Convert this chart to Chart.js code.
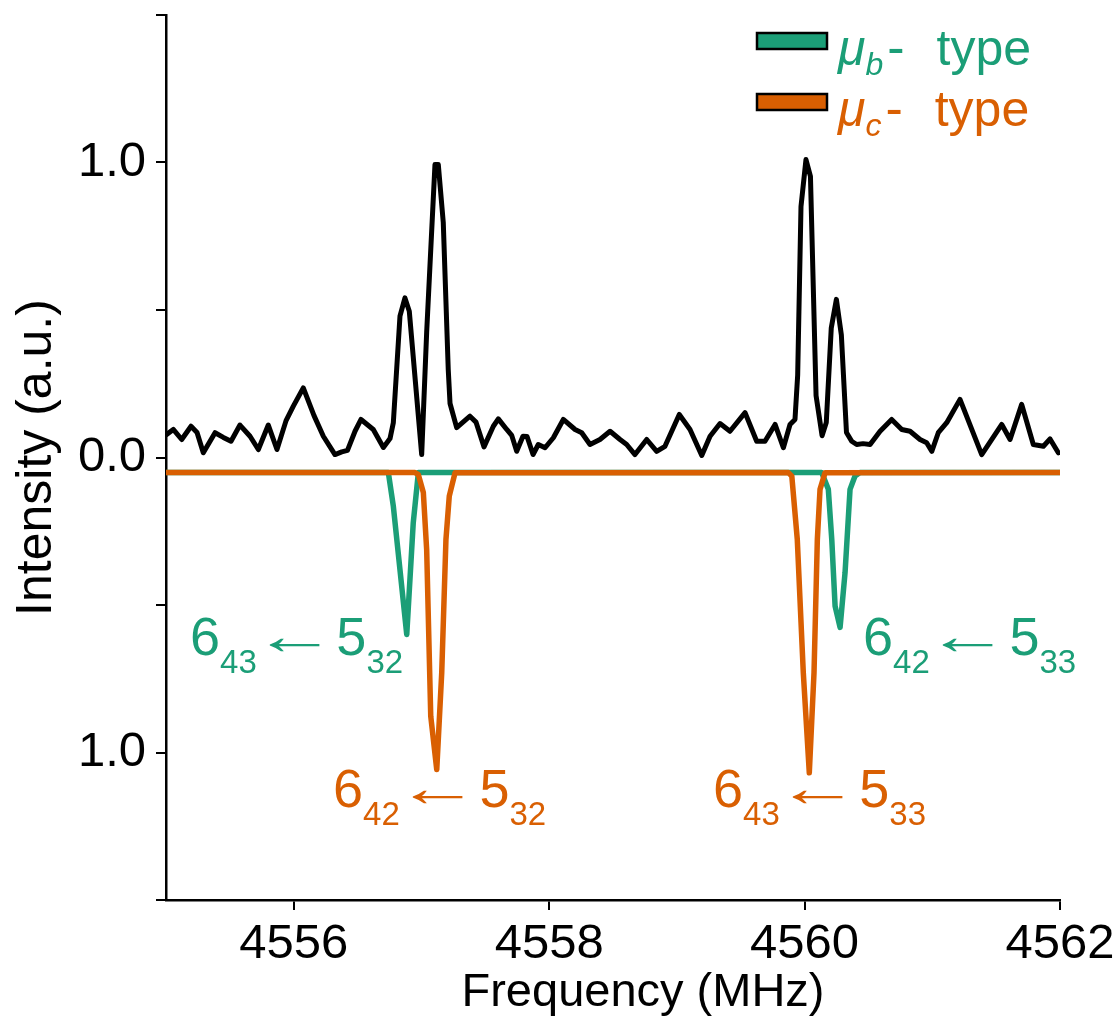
<!DOCTYPE html>
<html lang="en">
<head>
    <meta charset="UTF-8">
    <title>Rotational spectrum 4555-4562 MHz</title>
    <script src="https://cdn.jsdelivr.net/npm/chart.js"></script>
    <style>
        html, body { margin: 0; padding: 0; background: #fff; }
        canvas { display: block; }
    </style>
</head>
<body>
    <canvas id="spectrumChart" width="1113" height="1017"></canvas>

    <script type=text/javascript>
        // observed spectrum (black trace)
        var obsFreq = [4555.005, 4555.057, 4555.123, 4555.196, 4555.243, 4555.292, 4555.384, 4555.449, 4555.509, 4555.579,
            4555.658, 4555.723, 4555.801, 4555.869, 4555.940, 4555.997, 4556.075, 4556.159, 4556.232, 4556.323,
            4556.376, 4556.421, 4556.480, 4556.527, 4556.623, 4556.702, 4556.754, 4556.780, 4556.832, 4556.871,
            4556.905, 4557.002, 4557.041, 4557.106, 4557.132, 4557.171, 4557.210, 4557.224, 4557.276, 4557.380,
            4557.427, 4557.490, 4557.563, 4557.602, 4557.668, 4557.707, 4557.746, 4557.795, 4557.827, 4557.874,
            4557.915, 4557.968, 4558.033, 4558.111, 4558.203, 4558.255, 4558.320, 4558.398, 4558.477, 4558.555,
            4558.607, 4558.672, 4558.764, 4558.842, 4558.907, 4559.019, 4559.103, 4559.195, 4559.260, 4559.338,
            4559.416, 4559.534, 4559.625, 4559.690, 4559.769, 4559.834, 4559.886, 4559.925, 4559.946, 4559.972,
            4560.011, 4560.046, 4560.090, 4560.137, 4560.170, 4560.209, 4560.249, 4560.288, 4560.328, 4560.369,
            4560.408, 4560.458, 4560.513, 4560.591, 4560.682, 4560.761, 4560.826, 4560.904, 4560.956, 4560.996,
            4561.047, 4561.113, 4561.217, 4561.387, 4561.544, 4561.609, 4561.700, 4561.791, 4561.870, 4561.922,
            4561.987];
        var obsInt = [0.078, 0.095, 0.061, 0.106, 0.085, 0.016, 0.084, 0.068, 0.055, 0.110,
            0.072, 0.027, 0.110, 0.027, 0.125, 0.174, 0.236, 0.142, 0.072, 0.010,
            0.019, 0.024, 0.089, 0.129, 0.095, 0.034, 0.064, 0.118, 0.479, 0.541,
            0.496, 0.010, 0.424, 0.993, 0.993, 0.797, 0.298, 0.183, 0.101, 0.140,
            0.120, 0.036, 0.106, 0.131, 0.095, 0.075, 0.021, 0.072, 0.071, 0.010,
            0.044, 0.033, 0.067, 0.129, 0.095, 0.084, 0.044, 0.061, 0.089, 0.061,
            0.044, 0.010, 0.061, 0.021, 0.038, 0.146, 0.095, 0.007, 0.072, 0.115,
            0.089, 0.152, 0.055, 0.055, 0.112, 0.033, 0.112, 0.129, 0.279, 0.851,
            1.010, 0.953, 0.210, 0.074, 0.119, 0.439, 0.536, 0.416, 0.085, 0.055,
            0.044, 0.047, 0.044, 0.089, 0.129, 0.095, 0.089, 0.061, 0.050, 0.021,
            0.084, 0.118, 0.197, 0.010, 0.112, 0.061, 0.180, 0.044, 0.038, 0.063,
            0.016];

        // simulated mu_b-type lines (green, drawn inverted)
        var bFreq = [4555.000, 4556.741, 4556.780, 4556.885, 4556.936, 4556.976, 4560.134, 4560.186, 4560.213, 4560.239,
            4560.278, 4560.317, 4560.356, 4560.395, 4560.434, 4562.000];
        var bInt = [-0.051, -0.051, -0.165, -0.600, -0.221, -0.051, -0.051, -0.108, -0.278, -0.504,
            -0.576, -0.390, -0.108, -0.063, -0.051, -0.051];

        // simulated mu_c-type lines (orange, drawn inverted)
        var cFreq = [4555.000, 4556.950, 4556.976, 4557.015, 4557.041, 4557.073, 4557.120, 4557.159, 4557.192, 4557.218,
            4557.263, 4559.873, 4559.900, 4559.943, 4559.990, 4560.037, 4560.074, 4560.100, 4560.121, 4560.160,
            4562.000];
        var cInt = [-0.051, -0.051, -0.058, -0.119, -0.312, -0.877, -1.058, -0.729, -0.278, -0.131,
            -0.052, -0.051, -0.063, -0.278, -0.729, -1.069, -0.729, -0.278, -0.108, -0.052,
            -0.051];

        var xTicks = [4556, 4558, 4560, 4562];
        var yTicks = [-1.5, -1.0, -0.5, 0.0, 0.5, 1.0, 1.5];
        var yLabelled = [-1.0, 0.0, 1.0];

        // transition labels: [upper, upper-sub, lower, lower-sub] anchored at (freq, intensity)
        var labelText = [['6', '43', '5', '32'], ['6', '42', '5', '33'], ['6', '42', '5', '32'], ['6', '43', '5', '33']];
        var labelFreq = [4555.188, 4560.458, 4556.308, 4559.283];
        var labelInt = [-0.668, -0.668, -1.186, -1.186];
        var labelType = ['b', 'b', 'c', 'c'];

        var GREEN = '#1b9e77';
        var ORANGE = '#d95f02';
        var FONT = '"Liberation Sans", Arial, sans-serif';

        function toPoints(xs, ys) {
            return xs.map(function (x, i) { return {x: x, y: ys[i]}; });
        }

        // draw a row of text pieces with their own size / style / shift
        // p.ink: place by ink box (gap measured from previous end), p.sx: horizontal stretch
        function drawRich(ctx, x, y, parts, color) {
            ctx.save();
            ctx.fillStyle = color;
            ctx.textBaseline = 'alphabetic';
            ctx.textAlign = 'left';
            parts.forEach(function (p) {
                ctx.font = (p.italic ? 'italic ' : '') + p.size + 'px ' + FONT;
                x += (p.gap || 0);
                var m = ctx.measureText(p.t);
                if (p.ink) {
                    var sx = p.sx || 1;
                    ctx.save();
                    ctx.translate(x + m.actualBoundingBoxLeft * sx, y + (p.dy || 0));
                    ctx.scale(sx, 1);
                    ctx.fillText(p.t, 0, 0);
                    ctx.restore();
                    x += (m.actualBoundingBoxLeft + m.actualBoundingBoxRight) * sx;
                } else {
                    ctx.fillText(p.t, x, y + (p.dy || 0));
                    x += m.width;
                }
            });
            ctx.restore();
        }

        var decorations = {
            id: 'decorations',
            afterDatasetsDraw: function (chart) {
                var ctx = chart.ctx;
                var xs = chart.scales.x, ys = chart.scales.y;
                var area = chart.chartArea;

                // transition labels
                for (var i = 0; i < labelText.length; i++) {
                    var t = labelText[i];
                    var col = labelType[i] === 'b' ? GREEN : ORANGE;
                    drawRich(ctx, xs.getPixelForValue(labelFreq[i]), ys.getPixelForValue(labelInt[i]), [
                        {t: t[0], size: 54},
                        {t: t[1], size: 33, dy: 18},
                        {t: '\u2190', size: 54, ink: true, sx: 1.55, gap: 13, dy: -1},
                        {t: t[2], size: 54, gap: 17},
                        {t: t[3], size: 33, dy: 18}
                    ], col);
                }

                // legend
                var rows = [{sub: 'b', color: GREEN}, {sub: 'c', color: ORANGE}];
                rows.forEach(function (r, k) {
                    var cy = 41 + k * 61;
                    ctx.save();
                    ctx.fillStyle = r.color;
                    ctx.strokeStyle = '#000';
                    ctx.lineWidth = 2.5;
                    ctx.fillRect(757, cy - 8, 70, 16);
                    ctx.strokeRect(757, cy - 8, 70, 16);
                    ctx.restore();
                    drawRich(ctx, 838, cy + 24, [
                        {t: '\u03bc', size: 50, italic: true},
                        {t: r.sub, size: 32, italic: true, dy: 10},
                        {t: '-', size: 52, gap: 4},
                        {t: 'type', size: 50, gap: 32}
                    ], r.color);
                });

                // axis titles
                ctx.save();
                ctx.fillStyle = '#000';
                ctx.font = '47px ' + FONT;
                ctx.textAlign = 'center';
                ctx.textBaseline = 'alphabetic';
                ctx.fillText('Frequency (MHz)', 643, 1006);
                ctx.translate(51, (area.top + area.bottom) / 2);
                ctx.rotate(-Math.PI / 2);
                ctx.font = '50px ' + FONT;
                ctx.fillText('Intensity (a.u.)', 0, 0);
                ctx.restore();
            }
        };

        var ctx = document.getElementById('spectrumChart').getContext('2d');
        var spectrumChart = new Chart(ctx, {
            type: 'line',
            data: {
                // first dataset is drawn on top
                datasets: [
                    {
                        label: 'Observed',
                        data: toPoints(obsFreq, obsInt),
                        borderColor: '#000',
                        borderWidth: 5
                    },
                    {
                        label: '\u03bcc- type',
                        data: toPoints(cFreq, cInt),
                        borderColor: ORANGE,
                        borderWidth: 5.5
                    },
                    {
                        label: '\u03bcb- type',
                        data: toPoints(bFreq, bInt),
                        borderColor: GREEN,
                        borderWidth: 5.5
                    }
                ]
            },
            options: {
                responsive: false,
                animation: false,
                events: [],
                layout: {
                    padding: {left: 0, right: 53, top: 15, bottom: 0}
                },
                elements: {
                    point: {radius: 0},
                    line: {tension: 0, fill: false, borderJoinStyle: 'round', borderCapStyle: 'round'}
                },
                plugins: {
                    legend: {display: false},
                    tooltip: {enabled: false}
                },
                scales: {
                    x: {
                        type: 'linear',
                        min: 4555,
                        max: 4562,
                        border: {display: true, color: '#000', width: 2.5},
                        grid: {display: true, drawOnChartArea: false, drawTicks: true, tickLength: 10, color: '#000', lineWidth: 2},
                        ticks: {
                            color: '#000',
                            font: {family: FONT, size: 49},
                            padding: 5,
                            maxRotation: 0,
                            callback: function (v) { return String(v); }
                        },
                        afterBuildTicks: function (scale) {
                            scale.ticks = xTicks.map(function (v) { return {value: v}; });
                        },
                        afterFit: function (scale) {
                            scale.height = 117;
                            scale.paddingLeft = 0;
                            scale.paddingRight = 0;
                        }
                    },
                    y: {
                        type: 'linear',
                        min: -1.5,
                        max: 1.5,
                        border: {display: true, color: '#000', width: 2.5},
                        grid: {display: true, drawOnChartArea: false, drawTicks: true, tickLength: 10, color: '#000', lineWidth: 2},
                        ticks: {
                            color: '#000',
                            font: {family: FONT, size: 49},
                            padding: 10,
                            callback: function (v) {
                                return yLabelled.indexOf(v) >= 0 ? Math.abs(v).toFixed(1) : '';
                            }
                        },
                        afterBuildTicks: function (scale) {
                            scale.ticks = yTicks.map(function (v) { return {value: v}; });
                        },
                        afterFit: function (scale) {
                            scale.width = 166;
                            scale.paddingTop = 0;
                            scale.paddingBottom = 0;
                        }
                    }
                }
            },
            plugins: [decorations]
        });
    </script>
</body>
</html>
